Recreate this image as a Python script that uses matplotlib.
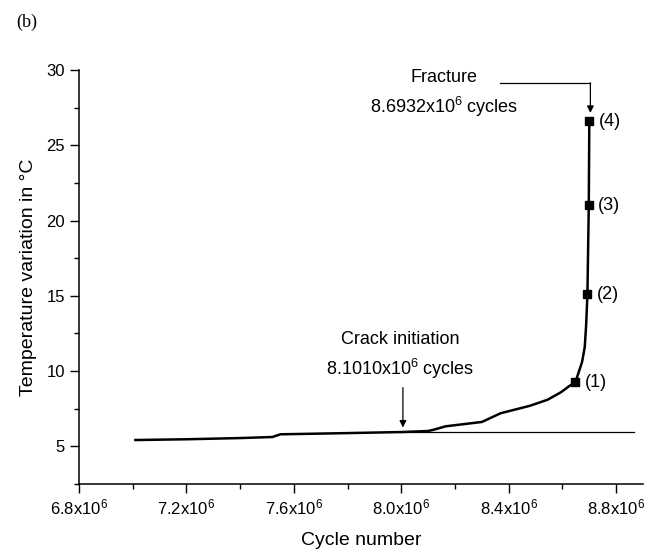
import matplotlib
matplotlib.use("Agg")
import matplotlib.pyplot as plt
from matplotlib.ticker import MultipleLocator, FuncFormatter

plt.rcParams['font.family'] = ['Liberation Sans', 'DejaVu Sans']
plt.rcParams['mathtext.default'] = 'regular'

# temperature curve (cycles in units of 10^6)
cycles = [7.01, 7.2, 7.4, 7.52, 7.55, 7.8, 8.0, 8.1, 8.12, 8.165, 8.30, 8.37,
          8.48, 8.545, 8.595, 8.625, 8.648, 8.673, 8.683, 8.688, 8.693, 8.698, 8.700]
temp = [5.42, 5.47, 5.55, 5.62, 5.80, 5.88, 5.95, 6.02, 6.10, 6.33, 6.62, 7.2,
        7.7, 8.1, 8.6, 9.0, 9.25, 10.6, 11.6, 13.0, 15.1, 21.0, 26.6]

# marked points
mark_x = [8.648, 8.693, 8.698, 8.700]
mark_y = [9.25, 15.1, 21.0, 26.6]
mark_lbl = ['(1)', '(2)', '(3)', '(4)']

# reference level
ref_x = [8.0, 8.867]
ref_y = [5.95, 5.95]

fig = plt.figure(figsize=(6.46, 5.57), dpi=100)
ax = fig.add_axes([0.1223, 0.1311, 0.8731, 0.7432])

ax.plot(ref_x, ref_y, color='black', lw=0.9)
ax.plot(cycles, temp, color='black', lw=1.8)
ax.plot(mark_x, mark_y, 's', color='black', ms=6)
for x, y, s in zip(mark_x, mark_y, mark_lbl):
    ax.text(x + 0.035, y, s, fontsize=13, va='center', ha='left')

# crack initiation
ax.annotate('', xy=(8.006, 6.25), xytext=(8.006, 8.9),
            arrowprops=dict(arrowstyle='-|>', color='black', lw=0.9,
                            mutation_scale=10, shrinkA=0, shrinkB=0))
ax.text(7.995, 12.07, 'Crack initiation', fontsize=13, ha='center', va='center')
ax.text(7.995, 10.13, '8.1010x10$^6$ cycles', fontsize=13, ha='center', va='center')

# fracture
ax.plot([8.366, 8.704], [29.15, 29.15], color='black', lw=0.9)
ax.annotate('', xy=(8.704, 27.15), xytext=(8.704, 29.15),
            arrowprops=dict(arrowstyle='-|>', color='black', lw=0.9,
                            mutation_scale=10, shrinkA=0, shrinkB=0))
ax.text(8.16, 29.47, 'Fracture', fontsize=13, ha='center', va='center')
ax.text(8.16, 27.53, '8.6932x10$^6$ cycles', fontsize=13, ha='center', va='center')

ax.set_xlim(6.8, 8.9)
ax.set_ylim(2.5, 30)
ax.xaxis.set_major_locator(MultipleLocator(0.4))
ax.xaxis.set_minor_locator(MultipleLocator(0.2))
ax.yaxis.set_major_locator(MultipleLocator(5))
ax.yaxis.set_minor_locator(MultipleLocator(2.5))
ax.xaxis.set_major_formatter(FuncFormatter(lambda v, p: '%.1fx10$^6$' % v))
ax.set_yticks([5, 10, 15, 20, 25, 30])
ax.tick_params(which='major', length=6.5, width=1, labelsize=12)
ax.tick_params(which='minor', length=3.5, width=1)
for s in ['top', 'right']:
    ax.spines[s].set_visible(False)
for s in ['left', 'bottom']:
    ax.spines[s].set_linewidth(1.1)

ax.set_xlabel('Cycle number', fontsize=14, labelpad=10)
ax.set_ylabel('Temperature variation in °C', fontsize=14, labelpad=7)

fig.text(0.025, 0.96, '(b)', fontsize=13, family='Liberation Serif', va='center')

fig.savefig('out.png', dpi=100)
plt.close(fig)
